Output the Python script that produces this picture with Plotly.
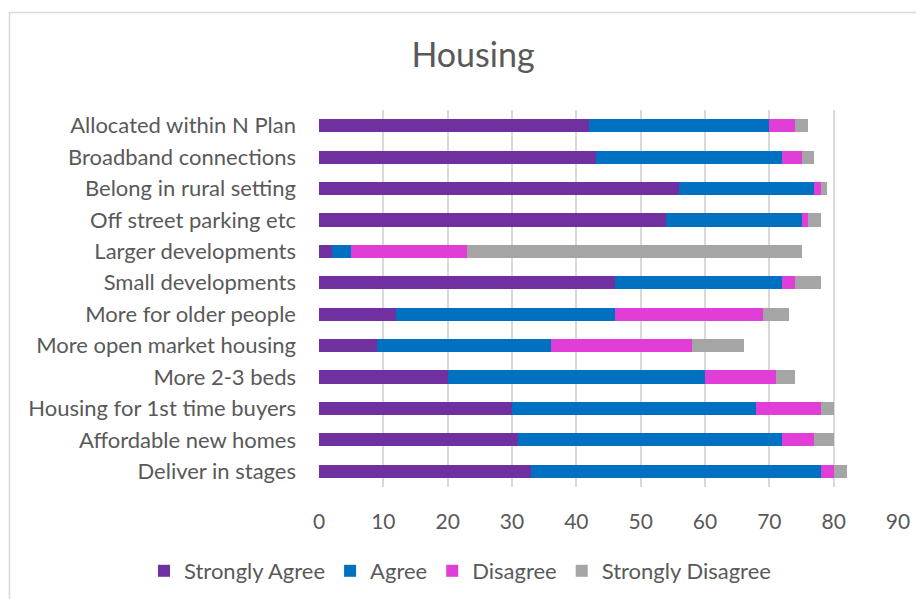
import plotly.graph_objects as go

categories = [
    "Allocated within N Plan", "Broadband connections", "Belong in rural setting",
    "Off street parking etc", "Larger developments", "Small developments",
    "More for older people", "More open market housing", "More 2-3 beds",
    "Housing for 1st time buyers", "Affordable new homes", "Deliver in stages",
]
strongly_agree = [42, 43, 56, 54, 2, 46, 12, 9, 20, 30, 31, 33]
agree = [28, 29, 21, 21, 3, 26, 34, 27, 40, 38, 41, 45]
disagree = [4, 3, 1, 1, 18, 2, 23, 22, 11, 10, 5, 2]
strongly_disagree = [2, 2, 1, 2, 52, 4, 4, 8, 3, 2, 3, 2]
x_ticks = [0, 10, 20, 30, 40, 50, 60, 70, 80, 90]

series = [
    ("Strongly Agree", strongly_agree, "#7030A0"),
    ("Agree", agree, "#0070C0"),
    ("Disagree", disagree, "#E03ED6"),
    ("Strongly Disagree", strongly_disagree, "#A5A5A5"),
]

FONT = "Lato, Open Sans, sans-serif"
TXT = "#595959"

# page body has an 8px offset; plot area in figure coords
L, R_EDGE, T, B = 311, 890, 102, 479
PW, PH = R_EDGE - L, B - T

fig = go.Figure()
for name, vals, col in series:
    fig.add_trace(go.Bar(
        y=categories, x=vals, name=name, orientation="h",
        marker=dict(color=col, line=dict(width=0)),
    ))

fig.update_layout(
    width=924, height=599,
    barmode="stack", bargap=0.58,
    paper_bgcolor="white", plot_bgcolor="white",
    margin=dict(l=L, r=924 - R_EDGE, t=T, b=599 - B),
    font=dict(family=FONT, color=TXT, size=22),
    title=dict(text="Housing", x=465 / 924, xanchor="center",
               y=1 - 47 / 599, yanchor="middle",
               font=dict(family=FONT, size=34, color=TXT)),
    xaxis=dict(range=[0, 90], tickvals=x_ticks, showgrid=True, gridcolor="#D9D9D9",
               gridwidth=1.5, zeroline=False, showline=False, ticks="",
               tickfont=dict(size=21, color=TXT), ticklabelstandoff=20),
    yaxis=dict(autorange="reversed", showgrid=False, ticks="", showline=False,
               tickfont=dict(size=22, color=TXT), ticklabelstandoff=22),
    legend=dict(orientation="h", x=(136 - L) / PW, xanchor="left",
                y=(B - 563) / PH, yanchor="middle",
                font=dict(size=22, color=TXT), traceorder="normal"),
    shapes=[dict(type="rect", xref="paper", yref="paper",
                 x0=(1.5 - L) / PW, x1=2, y0=-2, y1=(B - 4.5) / PH,
                 line=dict(color="#D9D9D9", width=1.5), fillcolor="rgba(0,0,0,0)",
                 layer="below")],
)

fig.write_html("out.html")
